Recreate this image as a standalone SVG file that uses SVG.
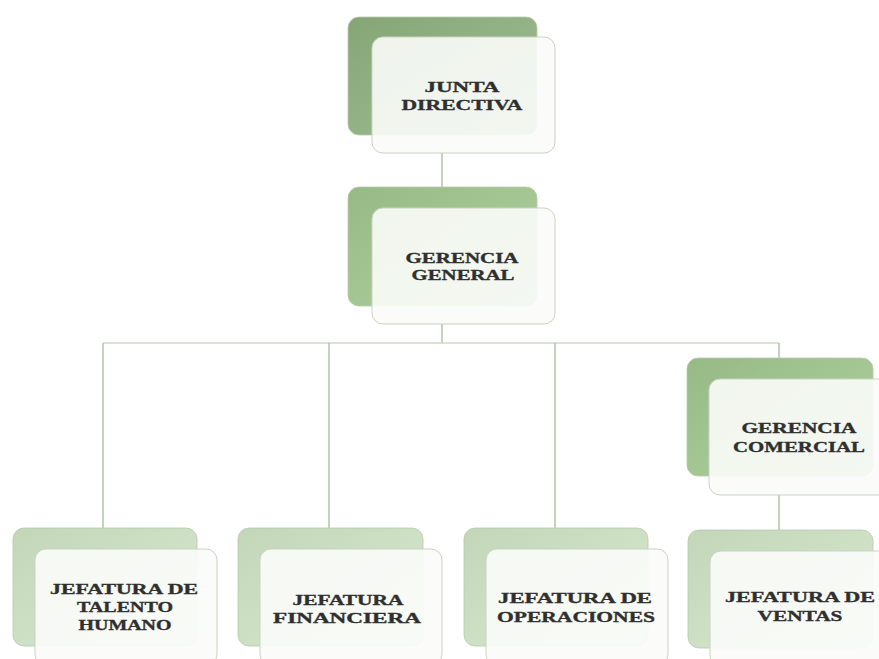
<svg xmlns="http://www.w3.org/2000/svg" width="879" height="659" viewBox="0 0 879 659">
  <defs>
    <linearGradient id="gDark" x1="0" y1="0" x2="1" y2="1">
      <stop offset="0" stop-color="#86a577"/>
      <stop offset="0.5" stop-color="#93b386"/>
      <stop offset="1" stop-color="#a3c196"/>
    </linearGradient>
    <linearGradient id="gMid" x1="0" y1="0" x2="1" y2="1">
      <stop offset="0" stop-color="#96ba85"/>
      <stop offset="0.5" stop-color="#a3c693"/>
      <stop offset="1" stop-color="#b1d0a3"/>
    </linearGradient>
    <linearGradient id="gPale" x1="0" y1="0" x2="1" y2="1">
      <stop offset="0" stop-color="#c2d6b8"/>
      <stop offset="0.5" stop-color="#cde0c4"/>
      <stop offset="1" stop-color="#d8e7d1"/>
    </linearGradient>
  </defs>
  <style>
    .bg { fill: #ffffff; }
    .back { stroke: #b9c9ae; stroke-width: 0.8; }
    .front { fill: #fbfcfa; fill-opacity: 0.9; stroke: #c9d3c2; stroke-width: 1; }
    .conn line { stroke: #a9b89f; stroke-width: 1.3; }
    .conn .bar { stroke: #cdd8c4; stroke-width: 1.6; }
    text { font-family: "Liberation Serif", "DejaVu Serif", serif; font-weight: bold; font-size: 15.5px; fill: #2f2f2f; stroke: #2f2f2f; stroke-width: 0.35; text-anchor: middle; }
  </style>

  <rect class="bg" x="0" y="0" width="879" height="659"/>

  <!-- connectors -->
  <g id="connectors" class="conn">
    <line x1="442" y1="153" x2="442" y2="187"/>
    <line x1="442" y1="324" x2="442" y2="343"/>
    <line class="bar" x1="103" y1="343" x2="779" y2="343"/>
    <line x1="103" y1="343" x2="103" y2="528"/>
    <line x1="329" y1="343" x2="329" y2="528"/>
    <line x1="555" y1="343" x2="555" y2="528"/>
    <line x1="779" y1="343" x2="779" y2="358"/>
    <line x1="779" y1="495" x2="779" y2="530"/>
  </g>

  <!-- top: board -->
  <g id="junta-directiva">
    <rect class="back" x="348" y="17" width="189" height="118" rx="11" fill="url(#gDark)"/>
    <rect class="front" x="372" y="37" width="183" height="116" rx="11"/>
    <text x="462" y="92" textLength="75" lengthAdjust="spacingAndGlyphs">JUNTA</text>
    <text x="462" y="110" textLength="121" lengthAdjust="spacingAndGlyphs">DIRECTIVA</text>
  </g>

  <g id="gerencia-general">
    <rect class="back" x="348" y="187" width="189" height="119" rx="11" fill="url(#gMid)"/>
    <rect class="front" x="372" y="208" width="183" height="116" rx="11"/>
    <text x="462" y="263" textLength="113" lengthAdjust="spacingAndGlyphs">GERENCIA</text>
    <text x="463" y="280" textLength="103" lengthAdjust="spacingAndGlyphs">GENERAL</text>
  </g>

  <g id="gerencia-comercial">
    <rect class="back" x="687" y="358" width="186" height="118" rx="11" fill="url(#gMid)"/>
    <rect class="front" x="709" y="379" width="183" height="116" rx="11"/>
    <text x="799" y="433" textLength="115" lengthAdjust="spacingAndGlyphs">GERENCIA</text>
    <text x="799" y="452" textLength="132" lengthAdjust="spacingAndGlyphs">COMERCIAL</text>
  </g>

  <!-- bottom row -->
  <g id="jefatura-talento-humano">
    <rect class="back" x="13" y="528" width="184" height="118" rx="11" fill="url(#gPale)"/>
    <rect class="front" x="35" y="549" width="182" height="116" rx="11"/>
    <text x="124" y="594" textLength="148" lengthAdjust="spacingAndGlyphs">JEFATURA DE</text>
    <text x="125" y="612" textLength="96" lengthAdjust="spacingAndGlyphs">TALENTO</text>
    <text x="125" y="630" textLength="93" lengthAdjust="spacingAndGlyphs">HUMANO</text>
  </g>

  <g id="jefatura-financiera">
    <rect class="back" x="238" y="528" width="185" height="118" rx="11" fill="url(#gPale)"/>
    <rect class="front" x="260" y="549" width="182" height="116" rx="11"/>
    <text x="348" y="605" textLength="111" lengthAdjust="spacingAndGlyphs">JEFATURA</text>
    <text x="347" y="623" textLength="148" lengthAdjust="spacingAndGlyphs">FINANCIERA</text>
  </g>

  <g id="jefatura-operaciones">
    <rect class="back" x="464" y="528" width="184" height="118" rx="11" fill="url(#gPale)"/>
    <rect class="front" x="486" y="549" width="182" height="116" rx="11"/>
    <text x="575" y="603" textLength="154" lengthAdjust="spacingAndGlyphs">JEFATURA DE</text>
    <text x="576" y="622" textLength="158" lengthAdjust="spacingAndGlyphs">OPERACIONES</text>
  </g>

  <g id="jefatura-ventas">
    <rect class="back" x="688" y="530" width="185" height="118" rx="11" fill="url(#gPale)"/>
    <rect class="front" x="710" y="551" width="182" height="116" rx="11"/>
    <text x="800" y="602" textLength="150" lengthAdjust="spacingAndGlyphs">JEFATURA DE</text>
    <text x="800" y="621" textLength="85" lengthAdjust="spacingAndGlyphs">VENTAS</text>
  </g>
</svg>
